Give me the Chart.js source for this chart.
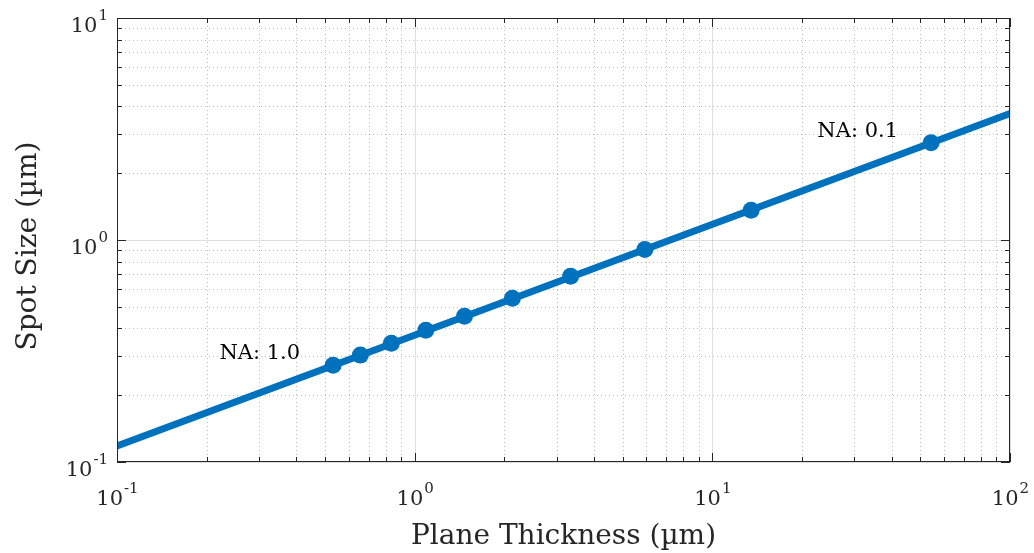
<!DOCTYPE html>
<html>
<head>
<meta charset="utf-8">
<title>Spot Size vs Plane Thickness</title>
<script src="https://cdn.jsdelivr.net/npm/chart.js@4.4.1/dist/chart.umd.min.js"></script>
<style>
  html, body { margin: 0; padding: 0; background: #fff; }
  #wrap { width: 1034px; height: 553px; position: relative; }
</style>
</head>
<body>
<div id="wrap"><canvas id="spotChart"></canvas></div>
<script>
// --- DATA ---
const naLabels = ['1.0', '0.9', '0.8', '0.7', '0.6', '0.5', '0.4', '0.3', '0.2', '0.1'];
const thickness = [0.532, 0.657, 0.835, 1.09, 1.47, 2.13, 3.34, 5.93, 13.5, 54.3];
const spotSize = [0.273, 0.303, 0.343, 0.392, 0.453, 0.546, 0.686, 0.906, 1.36, 2.74];
const fitX = [0.1, 100];
const fitY = [0.118, 3.71];
const xDecades = [-1, 0, 1, 2];
const yDecades = [-1, 0, 1];
const annotated = [0, 9]; // which markers get an "NA: ..." label

const BLUE = '#0072BD';
const AXIS = '#262626';
const FONT = '"DejaVu Serif", "Liberation Serif", serif';

// all 1..9 x 10^k values inside a log range
function logTicks(min, max) {
    const out = [];
    for (let k = Math.floor(Math.log10(min)); k <= Math.ceil(Math.log10(max)); k++) {
        for (let m = 1; m <= 9; m++) {
            const v = m * Math.pow(10, k);
            if (v >= min * 0.999 && v <= max * 1.001) out.push({ v, major: m === 1 });
        }
    }
    return out;
}

// "10" with a raised exponent
function drawPow(ctx, exp, x, baseline, align) {
    ctx.font = '21px ' + FONT;
    const w1 = ctx.measureText('10').width;
    ctx.font = '15px ' + FONT;
    const w2 = ctx.measureText(exp).width;
    let start = align === 'right' ? x - w1 - w2 : x - (w1 + w2) / 2;
    ctx.textAlign = 'left';
    ctx.textBaseline = 'alphabetic';
    ctx.fillStyle = AXIS;
    ctx.font = '21px ' + FONT;
    ctx.fillText('10', start, baseline);
    ctx.font = '15px ' + FONT;
    ctx.fillText(exp, start + w1 + 1, baseline - 12);
}

function expText(e) { return e < 0 ? '-' + Math.abs(e) : String(e); }

const frame = {
    id: 'frame',
    beforeDraw(chart) {
        const ctx = chart.ctx;
        ctx.save();
        ctx.fillStyle = '#fff';
        ctx.fillRect(0, 0, chart.width, chart.height);
        ctx.restore();
    },
    beforeDatasetsDraw(chart) {
        const { ctx, chartArea: a, scales: { x, y } } = chart;
        ctx.save();
        ctx.lineWidth = 1;
        // minor grid, dotted
        ctx.strokeStyle = 'rgba(38,38,38,0.3)';
        ctx.setLineDash([1, 3]);
        logTicks(x.min, x.max).filter(t => !t.major).forEach(t => {
            const px = Math.round(x.getPixelForValue(t.v)) + 0.5;
            ctx.beginPath(); ctx.moveTo(px, a.top); ctx.lineTo(px, a.bottom); ctx.stroke();
        });
        logTicks(y.min, y.max).filter(t => !t.major).forEach(t => {
            const py = Math.round(y.getPixelForValue(t.v)) + 0.5;
            ctx.beginPath(); ctx.moveTo(a.left, py); ctx.lineTo(a.right, py); ctx.stroke();
        });
        // major grid, solid
        ctx.setLineDash([]);
        ctx.strokeStyle = 'rgba(38,38,38,0.15)';
        logTicks(x.min, x.max).filter(t => t.major).forEach(t => {
            const px = Math.round(x.getPixelForValue(t.v)) + 0.5;
            ctx.beginPath(); ctx.moveTo(px, a.top); ctx.lineTo(px, a.bottom); ctx.stroke();
        });
        logTicks(y.min, y.max).filter(t => t.major).forEach(t => {
            const py = Math.round(y.getPixelForValue(t.v)) + 0.5;
            ctx.beginPath(); ctx.moveTo(a.left, py); ctx.lineTo(a.right, py); ctx.stroke();
        });
        ctx.restore();
    },
    afterDatasetsDraw(chart) {
        const { ctx, chartArea: a, scales: { x, y } } = chart;
        ctx.save();
        ctx.strokeStyle = AXIS;
        ctx.lineWidth = 1;
        ctx.strokeRect(a.left + 0.5, a.top + 0.5, a.right - a.left - 1, a.bottom - a.top - 1);
        // inward ticks on all four sides
        logTicks(x.min, x.max).forEach(t => {
            const px = Math.round(x.getPixelForValue(t.v)) + 0.5;
            const len = t.major ? 9 : 5;
            ctx.beginPath();
            ctx.moveTo(px, a.bottom); ctx.lineTo(px, a.bottom - len);
            ctx.moveTo(px, a.top); ctx.lineTo(px, a.top + len);
            ctx.stroke();
        });
        logTicks(y.min, y.max).forEach(t => {
            const py = Math.round(y.getPixelForValue(t.v)) + 0.5;
            const len = t.major ? 9 : 5;
            ctx.beginPath();
            ctx.moveTo(a.left, py); ctx.lineTo(a.left + len, py);
            ctx.moveTo(a.right, py); ctx.lineTo(a.right - len, py);
            ctx.stroke();
        });
        ctx.restore();
    },
    afterDraw(chart) {
        const { ctx, chartArea: a, scales: { x, y } } = chart;
        ctx.save();
        xDecades.forEach(e => drawPow(ctx, expText(e), x.getPixelForValue(Math.pow(10, e)), a.bottom + 43, 'center'));
        yDecades.forEach(e => drawPow(ctx, expText(e), a.left - 10, y.getPixelForValue(Math.pow(10, e)) + 14, 'right'));

        // axis titles
        ctx.fillStyle = AXIS;
        ctx.font = '28px ' + FONT;
        ctx.textAlign = 'center';
        ctx.textBaseline = 'alphabetic';
        ctx.fillText('Plane Thickness (µm)', (a.left + a.right) / 2, 544);
        ctx.save();
        ctx.translate(36, (a.top + a.bottom) / 2 + 6);
        ctx.rotate(-Math.PI / 2);
        ctx.fillText('Spot Size (µm)', 0, 0);
        ctx.restore();

        // NA labels next to first and last marker
        ctx.font = '21px ' + FONT;
        ctx.textAlign = 'right';
        ctx.fillStyle = '#000';
        annotated.forEach(i => {
            const px = x.getPixelForValue(thickness[i]);
            const py = y.getPixelForValue(spotSize[i]);
            ctx.fillText('NA: ' + naLabels[i], px - 33, py - 6);
        });
        ctx.restore();
    }
};

const ctx = document.getElementById('spotChart').getContext('2d');
new Chart(ctx, {
    type: 'line',
    data: {
        datasets: [
            {
                label: 'NA markers',
                type: 'scatter',
                data: thickness.map((t, i) => ({ x: t, y: spotSize[i] })),
                backgroundColor: BLUE,
                borderColor: BLUE,
                borderWidth: 0,
                pointRadius: 8.5,
                pointHoverRadius: 8.5,
                order: 0
            },
            {
                label: 'Spot size',
                data: fitX.map((v, i) => ({ x: v, y: fitY[i] })),
                borderColor: BLUE,
                borderWidth: 7,
                pointRadius: 0,
                fill: false,
                order: 1
            }
        ]
    },
    options: {
        responsive: true,
        maintainAspectRatio: false,
        animation: false,
        layout: { padding: { left: 117, right: 24, top: 18, bottom: 91 } },
        plugins: { legend: { display: false }, tooltip: { enabled: false } },
        scales: {
            x: { type: 'logarithmic', min: 0.1, max: 100, display: false },
            y: { type: 'logarithmic', min: 0.1, max: 10, display: false }
        }
    },
    plugins: [frame]
});
</script>
</body>
</html>
